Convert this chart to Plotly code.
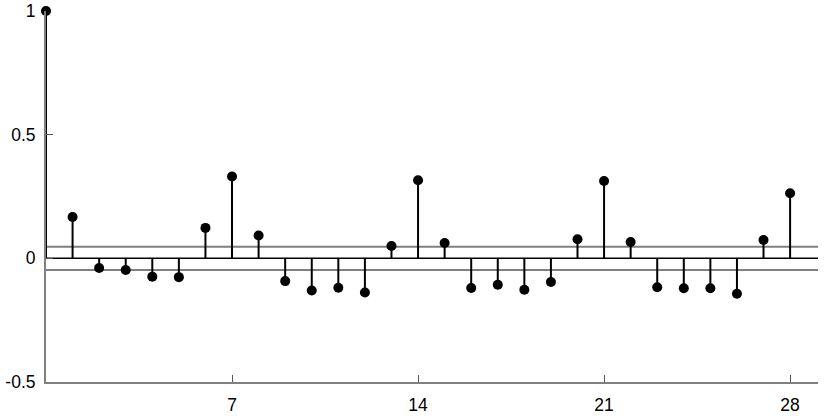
import plotly.graph_objects as go

lags = list(range(29))
acf = [1.0, 0.167, -0.039, -0.047, -0.074, -0.076, 0.123, 0.331, 0.092,
       -0.092, -0.130, -0.119, -0.138, 0.050, 0.316, 0.062, -0.120, -0.107,
       -0.127, -0.096, 0.077, 0.313, 0.066, -0.117, -0.121, -0.121, -0.143,
       0.074, 0.263]
conf = 0.047
x_ticks = [7, 14, 21, 28]
y_ticks = [-0.5, 0, 0.5, 1]
y_tick_text = ["-0.5", "0", "0.5", "1"]

stem_x, stem_y = [], []
for l, v in zip(lags, acf):
    stem_x += [l, l, None]
    stem_y += [0, v, None]

fig = go.Figure()
fig.add_trace(go.Scatter(x=stem_x, y=stem_y, mode="lines", cliponaxis=False,
                         line=dict(color="black", width=2), hoverinfo="skip"))
fig.add_trace(go.Scatter(x=lags, y=acf, mode="markers", cliponaxis=False,
                         marker=dict(color="black", size=10)))

for yv, col, w in [(0, "black", 1.5), (conf, "#808080", 2), (-conf, "#808080", 2)]:
    fig.add_shape(type="line", xref="paper", x0=0, x1=1, yref="y", y0=yv, y1=yv,
                  line=dict(color=col, width=w), layer="below")

fig.update_layout(
    width=830, height=416,
    margin=dict(l=46, r=12, t=11, b=34),
    paper_bgcolor="white", plot_bgcolor="white",
    showlegend=False,
    font=dict(family="Liberation Sans, Arial, sans-serif", size=17.5, color="black"),
    xaxis=dict(range=[0, 29.05], tickvals=x_ticks, ticks="inside", ticklen=7,
               tickcolor="#555555", showline=True, linecolor="#808080", linewidth=2,
               showgrid=False, zeroline=False, automargin=False, ticklabelstandoff=6),
    yaxis=dict(range=[-0.5, 1], tickvals=y_ticks, ticktext=y_tick_text,
               ticks="inside", ticklen=7, tickcolor="#555555",
               showline=True, linecolor="#808080", linewidth=2,
               showgrid=False, zeroline=False, automargin=False, ticklabelstandoff=5),
)
fig.write_html("out.html", config={"displayModeBar": False},
               post_script="document.body.style.margin='0';document.body.style.overflow='hidden';")
